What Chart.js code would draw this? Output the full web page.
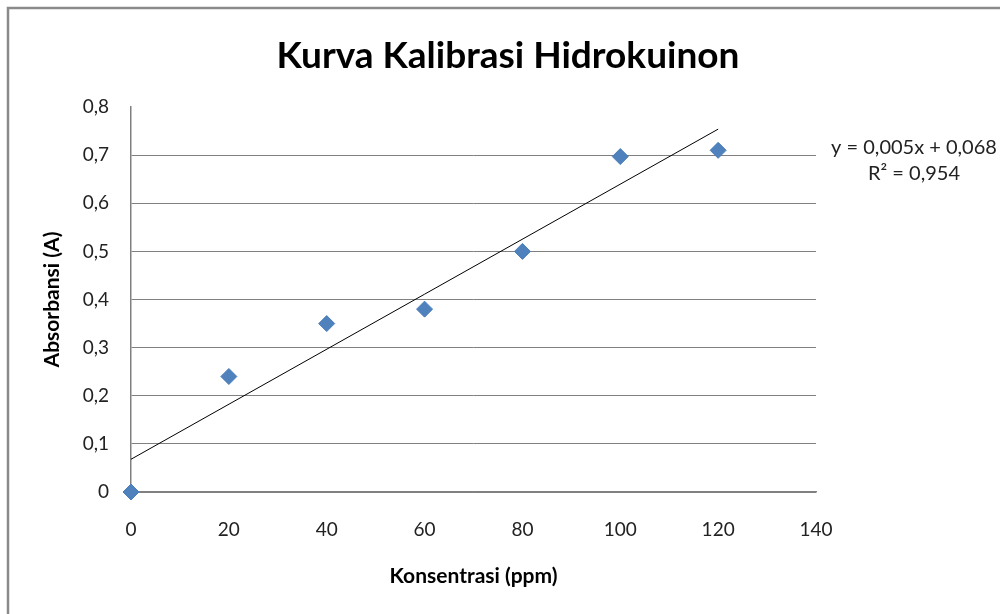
<!DOCTYPE html>
<html>
<head>
<meta charset="utf-8">
<script src="https://cdn.jsdelivr.net/npm/chart.js@4.4.1/dist/chart.umd.min.js"></script>
<style>
  html, body { margin: 0; padding: 0; background: #fff; }
  #wrap { width: 1000px; height: 614px; position: relative; }
</style>
</head>
<body>
<div id="wrap"><canvas id="kurva" width="1000" height="614"></canvas></div>
<script>
// data
const konsentrasi = [0, 20, 40, 60, 80, 100, 120];
const absorbansi = [0, 0.24, 0.35, 0.38, 0.50, 0.697, 0.71];
// linear trendline ends (x, y)
const trendX = [0, 120];
const trendY = [0.068, 0.754];
const yTicks = [0, 0.1, 0.2, 0.3, 0.4, 0.5, 0.6, 0.7, 0.8];
const xTicks = [0, 20, 40, 60, 80, 100, 120, 140];
const judul = "Kurva Kalibrasi Hidrokuinon";
const persamaan = ["y = 0,005x + 0,068", "R\u00B2 = 0,954"];

const FONT = "Lato, 'Open Sans', sans-serif";

const frameAndText = {
  id: "frameAndText",
  beforeDraw(chart) {
    const ctx = chart.ctx;
    ctx.save();
    ctx.strokeStyle = "#8a8a8a";
    ctx.lineWidth = 2.5;
    ctx.strokeRect(8, 8, 1200, 800);
    ctx.restore();
  },
  afterDraw(chart) {
    const ctx = chart.ctx;
    ctx.save();
    ctx.fillStyle = "#000";
    ctx.textAlign = "center";
    ctx.textBaseline = "middle";
    ctx.font = "bold 37px " + FONT;
    ctx.fillText(judul, 508, 56);
    ctx.fillStyle = "#222";
    ctx.font = "20px " + FONT;
    ctx.fillText(persamaan[0], 914, 148);
    ctx.fillText(persamaan[1], 914, 174);
    ctx.restore();
  }
};

new Chart(document.getElementById("kurva"), {
  type: "scatter",
  data: {
    datasets: [
      {
        label: "Absorbansi",
        data: konsentrasi.map((x, i) => ({ x: x, y: absorbansi[i] })),
        pointStyle: "rectRot",
        pointRadius: 8,
        pointHoverRadius: 8,
        backgroundColor: "#4F81BD",
        borderColor: "#4A7EBB",
        borderWidth: 1,
        clip: false,
        order: 1
      },
      {
        label: "Linear",
        data: trendX.map((x, i) => ({ x: x, y: trendY[i] })),
        showLine: true,
        pointRadius: 0,
        borderColor: "#000",
        borderWidth: 1,
        order: 2
      }
    ]
  },
  options: {
    responsive: false,
    animation: false,
    events: [],
    layout: { padding: { left: 0, right: 184, top: 107, bottom: 0 } },
    plugins: {
      legend: { display: false },
      title: { display: false },
      tooltip: { enabled: false }
    },
    scales: {
      x: {
        type: "linear",
        min: 0,
        max: 140,
        afterBuildTicks: (s) => { s.ticks = xTicks.map(v => ({ value: v })); },
        afterFit: (s) => { s.height = 122; },
        grid: { display: false, drawTicks: false },
        border: { display: true, color: "#808080", width: 1.5 },
        ticks: {
          color: "#222",
          padding: 26,
          maxRotation: 0,
          font: { family: FONT, size: 19 }
        },
        title: {
          display: true,
          text: "Konsentrasi (ppm)",
          color: "#000",
          font: { family: FONT, size: 21, weight: "bold" },
          padding: { top: 0, bottom: 25 }
        }
      },
      y: {
        type: "linear",
        min: 0,
        max: 0.8,
        afterBuildTicks: (s) => { s.ticks = yTicks.map(v => ({ value: v })); },
        afterFit: (s) => { s.width = 131; },
        grid: {
          drawTicks: false,
          color: (c) => (c.tick && c.tick.value >= 0.8 ? "rgba(0,0,0,0)" : "#808080"),
          lineWidth: 1
        },
        border: { display: true, color: "#808080", width: 1.5 },
        ticks: {
          color: "#222",
          padding: 22,
          font: { family: FONT, size: 19 },
          callback: (v) => (v === 0 ? "0" : v.toFixed(1).replace(".", ","))
        },
        title: {
          display: true,
          text: "Absorbansi (A)",
          color: "#000",
          font: { family: FONT, size: 21, weight: "bold" },
          padding: { top: 40, bottom: 0 }
        }
      }
    }
  },
  plugins: [frameAndText]
});
</script>
</body>
</html>
